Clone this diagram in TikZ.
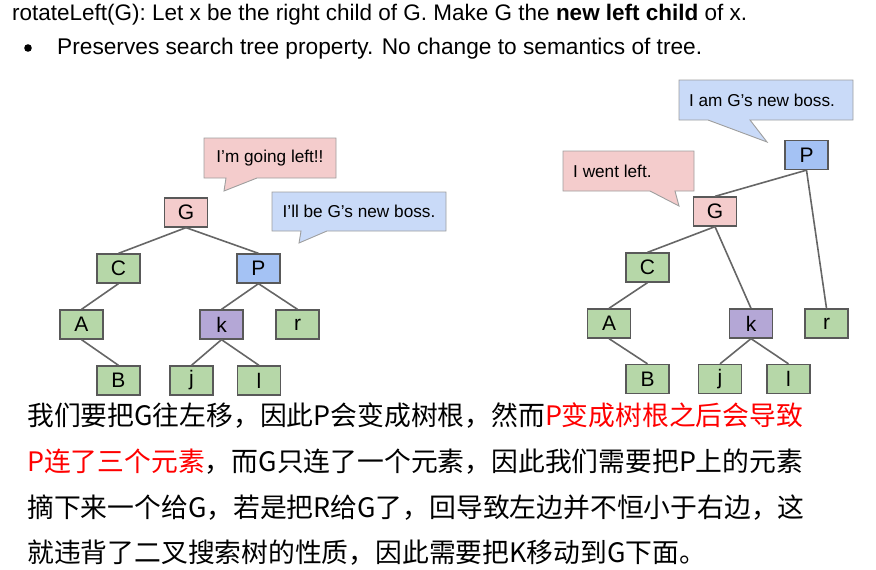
\documentclass[tikz,border=0pt]{standalone}
\usepackage{fontspec}
\setmainfont{Liberation Sans}
\newfontfamily\cjk{Noto Sans CJK SC}
\definecolor{nodeborder}{HTML}{595959}
\definecolor{edgegray}{HTML}{666666}
\definecolor{calloutborder}{HTML}{9E9E9E}
\definecolor{pinkfill}{HTML}{F4CCCC}
\definecolor{bluecall}{HTML}{C9DAF8}
\definecolor{bluenode}{HTML}{A4C2F4}
\definecolor{greenfill}{HTML}{B6D7A8}
\definecolor{purplefill}{HTML}{B4A7D6}
\definecolor{redtext}{HTML}{FF0000}
\tikzset{
  treenode/.style={draw=nodeborder, line width=1.3pt, minimum width=43pt, minimum height=29pt, inner sep=0pt, font=\fontsize{21}{24}\selectfont},
  gnode/.style={treenode, fill=greenfill},
  pnode/.style={treenode, fill=pinkfill},
  bnode/.style={treenode, fill=bluenode},
  knode/.style={treenode, fill=purplefill},
  edge/.style={draw=edgegray, line width=1.6pt},
  callout/.style={draw=calloutborder, line width=0.9pt, line join=miter},
  callouttext/.style={inner sep=0pt, font=\fontsize{17.2}{20}\selectfont},
  cjkline/.style={anchor=base west, inner sep=0pt, font=\cjk\fontsize{26.8}{30}\selectfont}
}
\begin{document}
\begin{tikzpicture}[x=1pt, y=-1pt]
\useasboundingbox (0,0) rectangle (876,570);
% header
\node[anchor=base west, inner sep=0pt] (title) at (12,20) {\resizebox{735pt}{!}{\fontsize{21}{24}\selectfont rotateLeft(G): Let x be the right child of G. Make G the \textbf{new left child} of x.}};
\fill (28,48) circle (3.8);
\node[anchor=base west, inner sep=0pt] (bullet) at (57,54) {\resizebox{645pt}{!}{\fontsize{20}{24}\selectfont Preserves search tree property. No change to semantics of tree.}};

% left callouts
\draw[callout, fill=pinkfill] (204,138) -- (336,138) -- (336,178) -- (257,178) -- (224,191) -- (226,178) -- (204,178) -- cycle;
\node[callouttext] (lc1) at (270,158) {I’m going left!!};
\draw[callout, fill=bluecall] (272,192) -- (446,192) -- (446,231) -- (327,231) -- (299,243) -- (301,231) -- (272,231) -- cycle;
\node[callouttext] (lc2) at (359,211.5) {I’ll be G’s new boss.};

% left tree
\node[pnode] (G1) at (186,212.5) {G};
\node[gnode] (C1) at (118.5,268.5) {C};
\node[bnode] (P1) at (258.5,268.5) {P};
\node[gnode] (A1) at (81.5,324.5) {A};
\node[knode] (k1) at (221.5,324.5) {k};
\node[gnode] (r1) at (297.5,324.5) {r};
\node[gnode] (B1) at (118.5,380.5) {B};
\node[gnode] (j1) at (191.5,380.5) {j};
\node[gnode] (l1) at (259,380.5) {l};
\draw[edge] (G1.south) -- (C1.north);
\draw[edge] (G1.south) -- (P1.north);
\draw[edge] (C1.south) -- (A1.north);
\draw[edge] (A1.south) -- (B1.north);
\draw[edge] (P1.south) -- (k1.north);
\draw[edge] (P1.south) -- (r1.north);
\draw[edge] (k1.south) -- (j1.north);
\draw[edge] (k1.south) -- (l1.north);

% right callouts
\draw[callout, fill=bluecall] (679,80) -- (853,80) -- (853,120) -- (750,120) -- (767,142) -- (708,120) -- (679,120) -- cycle;
\node[callouttext] (rc1) at (762,100) {I am G’s new boss.};
\draw[callout, fill=pinkfill] (563,151) -- (694,151) -- (694,191) -- (675,191) -- (679,206) -- (650,191) -- (563,191) -- cycle;
\node[callouttext, anchor=west] (rc2) at (573,171) {I went left.};

% right tree
\node[bnode] (P2) at (806.5,155) {P};
\node[pnode] (G2) at (715,211.5) {G};
\node[gnode] (C2) at (647.5,267.5) {C};
\node[gnode] (A2) at (609,323.5) {A};
\node[knode] (k2) at (751,323.5) {k};
\node[gnode] (r2) at (826.5,323.5) {r};
\node[gnode] (B2) at (647.5,379) {B};
\node[gnode] (j2) at (720,379) {j};
\node[gnode] (l2) at (788.5,379) {l};
\draw[edge] (P2.south) -- (G2.north);
\draw[edge] (P2.south) -- (r2.north);
\draw[edge] (G2.south) -- (C2.north);
\draw[edge] (G2.south) -- (k2.north);
\draw[edge] (C2.south) -- (A2.north);
\draw[edge] (A2.south) -- (B2.north);
\draw[edge] (k2.south) -- (j2.north);
\draw[edge] (k2.south) -- (l2.north);

% chinese text
\node[cjkline] (t1) at (27,425) {我们要把G往左移，因此P会变成树根，然而\textcolor{redtext}{P变成树根之后会导致}};
\node[cjkline] (t2) at (27,471) {\textcolor{redtext}{P连了三个元素}，而G只连了一个元素，因此我们需要把P上的元素};
\node[cjkline] (t3) at (27,517) {摘下来一个给G，若是把R给G了，回导致左边并不恒小于右边，这};
\node[cjkline] (t4) at (27,562) {就违背了二叉搜索树的性质，因此需要把K移动到G下面。};
\end{tikzpicture}
\end{document}
